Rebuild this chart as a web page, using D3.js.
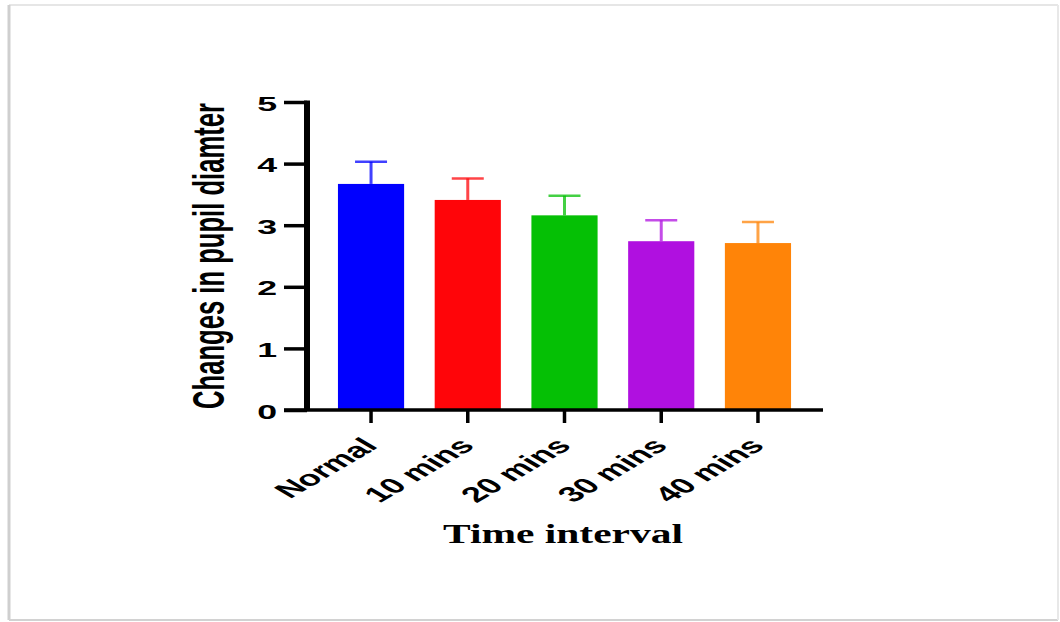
<!DOCTYPE html>
<html>
<head>
<meta charset="utf-8">
<script src="https://cdn.jsdelivr.net/npm/d3@7"></script>
<style>
  html, body { margin: 0; padding: 0; background: #fff; }
  svg { display: block; }
</style>
</head>
<body>
<svg id="chart" width="1060" height="622"></svg>
<script>
const categories = ["Normal", "10 mins", "20 mins", "30 mins", "40 mins"];
const means = [3.67, 3.41, 3.16, 2.74, 2.71];
const sds = [0.36, 0.35, 0.32, 0.34, 0.34];
const barColors = ["#0000ff", "#ff0509", "#05c005", "#b010e0", "#ff8408"];
const yTicks = [0, 1, 2, 3, 4, 5];
const yTitle = "Changes in pupil diamter";
const xTitle = "Time interval";

const svg = d3.select("#chart");

// frame
svg.append("line").attr("x1", 9).attr("x2", 1058).attr("y1", 5).attr("y2", 5)
  .attr("stroke", "#e6e6e6").attr("stroke-width", 2);
svg.append("line").attr("x1", 9).attr("x2", 9).attr("y1", 5).attr("y2", 620)
  .attr("stroke", "#cfcfcf").attr("stroke-width", 3);
svg.append("line").attr("x1", 9).attr("x2", 1058).attr("y1", 620).attr("y2", 620)
  .attr("stroke", "#d2d2d2").attr("stroke-width", 2);
svg.append("line").attr("x1", 1058).attr("x2", 1058).attr("y1", 5).attr("y2", 620)
  .attr("stroke", "#e8e8e8").attr("stroke-width", 2);

const x = d3.scaleBand().domain(categories).range([307, 822])
  .paddingInner(0.316).paddingOuter(0.32);
const y = d3.scaleLinear().domain([0, 5]).range([410, 102]);

const data = categories.map((c, i) => ({ c, m: means[i], sd: sds[i], col: barColors[i] }));

// bars
svg.append("g").selectAll("rect").data(data).join("rect")
  .attr("x", d => x(d.c)).attr("width", x.bandwidth())
  .attr("y", d => y(d.m)).attr("height", d => y(0) - y(d.m))
  .attr("fill", d => d.col);

// error bars
const eg = svg.append("g");
eg.selectAll("line.stem").data(data).join("line").attr("class", "stem")
  .attr("x1", d => x(d.c) + x.bandwidth() / 2).attr("x2", d => x(d.c) + x.bandwidth() / 2)
  .attr("y1", d => y(d.m)).attr("y2", d => y(d.m + d.sd))
  .attr("stroke", d => d.col).attr("stroke-opacity", 0.75).attr("stroke-width", 3);
eg.selectAll("line.cap").data(data).join("line").attr("class", "cap")
  .attr("x1", d => x(d.c) + x.bandwidth() / 2 - 16).attr("x2", d => x(d.c) + x.bandwidth() / 2 + 16)
  .attr("y1", d => y(d.m + d.sd)).attr("y2", d => y(d.m + d.sd))
  .attr("stroke", d => d.col).attr("stroke-opacity", 0.75).attr("stroke-width", 2.5);

// y axis
const yAxis = svg.append("g").attr("transform", "translate(307,0)")
  .call(d3.axisLeft(y).tickValues(yTicks).tickSize(23).tickSizeOuter(0).tickFormat(""));
yAxis.select(".domain").attr("stroke", "#000").attr("stroke-width", 6)
  .attr("d", `M0,${y(5) - 1.5}V${y(0)}`);
yAxis.selectAll(".tick line").attr("stroke", "#000").attr("stroke-width", 3.5);

// x axis
const xAxis = svg.append("g").attr("transform", "translate(0,410)")
  .call(d3.axisBottom(x).tickSize(13).tickSizeOuter(0).tickFormat(""));
xAxis.select(".domain").attr("stroke", "#000").attr("stroke-width", 3.5)
  .attr("d", "M284,0H823");
xAxis.selectAll(".tick line").attr("stroke", "#000").attr("stroke-width", 3.5);

// y tick labels
svg.append("g").selectAll("text").data(yTicks).join("text")
  .attr("transform", d => `translate(277,${y(d) + 1}) scale(1.7,1)`)
  .attr("dy", "0.36em")
  .attr("text-anchor", "end")
  .attr("font-family", "Liberation Sans, Arial, sans-serif")
  .attr("font-weight", "bold").attr("font-size", 21)
  .text(d => d);

// x tick labels
svg.append("g").selectAll("text").data(categories).join("text")
  .attr("transform", d => `translate(${x(d) + x.bandwidth() / 2 + 8},447) scale(1.7,1) rotate(-45)`)
  .attr("text-anchor", "end")
  .attr("font-family", "Liberation Sans, Arial, sans-serif")
  .attr("font-weight", "bold").attr("font-size", 21.5)
  .text(d => d);

// y title
svg.append("text")
  .attr("transform", "translate(224,256) scale(1.7,1) rotate(-90)")
  .attr("text-anchor", "middle")
  .attr("font-family", "Liberation Sans, Arial, sans-serif")
  .attr("font-weight", "bold").attr("font-size", 26)
  .attr("textLength", 306).attr("lengthAdjust", "spacingAndGlyphs")
  .text(yTitle);

// x title
svg.append("text")
  .attr("x", 563).attr("y", 543)
  .attr("text-anchor", "middle")
  .attr("font-family", "Liberation Serif, Times New Roman, serif")
  .attr("font-weight", "bold").attr("font-size", 27)
  .attr("textLength", 240).attr("lengthAdjust", "spacingAndGlyphs")
  .text(xTitle);
</script>
</body>
</html>
